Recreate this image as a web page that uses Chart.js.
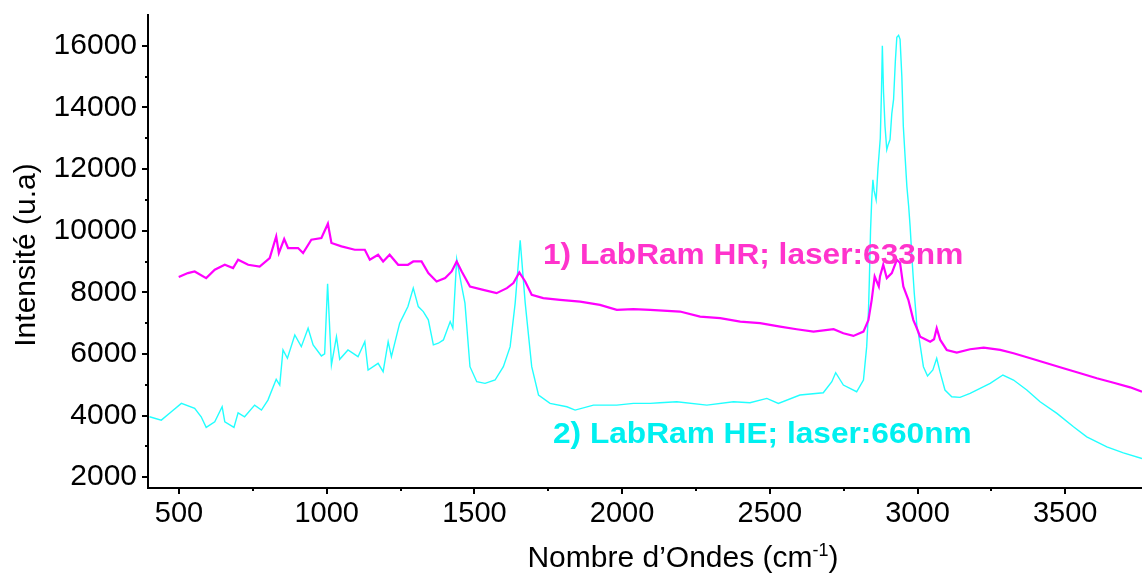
<!DOCTYPE html>
<html>
<head>
<meta charset="utf-8">
<script src="https://cdn.jsdelivr.net/npm/chart.js@4.4.0/dist/chart.umd.min.js"></script>
<style>
  html, body { margin: 0; padding: 0; background: #fff; }
  #wrap { width: 1142px; height: 574px; }
</style>
</head>
<body>
<div id="wrap"><canvas id="ramanChart" width="1142" height="574"></canvas></div>
<script>
// spectre 1 : LabRam HR, laser 633nm (nombre d'ondes / intensité)
const hrWave = [499, 530, 553, 592, 621, 655, 683, 700, 734, 773, 807, 829, 838, 856, 869, 903, 920, 948, 982, 1004,
  1016, 1050, 1095, 1129, 1146, 1174, 1191, 1213, 1242, 1275, 1293, 1321, 1344, 1372, 1401, 1423, 1440, 1457, 1485, 1530,
  1575, 1610, 1632, 1652, 1672, 1694, 1733, 1790, 1858, 1925, 1982, 2038, 2095, 2196, 2264, 2332, 2400, 2467, 2535, 2591,
  2648, 2716, 2749, 2783, 2817, 2834, 2845, 2855, 2869, 2873, 2884, 2896, 2913, 2930, 2941, 2952, 2969, 2986, 2995, 3009,
  3043, 3056, 3065, 3077, 3099, 3133, 3178, 3224, 3280, 3325, 3382, 3438, 3494, 3551, 3607, 3664, 3720, 3760];
const hrInt = [8494, 8624, 8677, 8462, 8732, 8894, 8787, 9057, 8894, 8839, 9112, 9815, 9275, 9730, 9437, 9437, 9275, 9708, 9762, 10227,
  9600, 9490, 9382, 9382, 9057, 9220, 9002, 9220, 8894, 8894, 9002, 9002, 8624, 8352, 8462, 8677, 9002, 8677, 8189, 8081,
  7974, 8136, 8299, 8644, 8352, 7919, 7811, 7756, 7701, 7593, 7431, 7453, 7431, 7376, 7213, 7160, 7050, 6998, 6888, 6803,
  6725, 6803, 6673, 6585, 6725, 7106, 7756, 8514, 8189, 8514, 8894, 8462, 8624, 9057, 8949, 8189, 7756, 7100, 6900, 6562,
  6400, 6478, 6836, 6455, 6130, 6043, 6153, 6205, 6130, 6022, 5860, 5697, 5535, 5372, 5210, 5067, 4917, 4774];

// spectre 2 : LabRam HE, laser 660nm
const heWave = [400, 440, 474, 508, 553, 575, 592, 621, 646, 655, 686, 700, 722, 756, 779, 801, 829, 841, 852, 867,
  892, 914, 937, 954, 982, 993, 1003, 1016, 1033, 1044, 1072, 1106, 1129, 1140, 1174, 1191, 1208, 1219, 1247, 1275,
  1293, 1310, 1327, 1344, 1361, 1378, 1395, 1418, 1427, 1440, 1457, 1468, 1485, 1508, 1536, 1570, 1598, 1621, 1638, 1655,
  1672, 1694, 1717, 1756, 1813, 1841, 1903, 1982, 2038, 2095, 2128, 2185, 2287, 2377, 2433, 2490, 2529, 2602, 2681, 2710,
  2723, 2749, 2794, 2817, 2828, 2834, 2837, 2841, 2845, 2849, 2853, 2860, 2866, 2874, 2878, 2881, 2885, 2890, 2896, 2901,
  2907, 2913, 2919, 2925, 2930, 2936, 2941, 2947, 2952, 2958, 2964, 2970, 2975, 2982, 2989, 2994, 2998, 3003, 3020, 3034,
  3052, 3065, 3076, 3093, 3116, 3144, 3178, 3212, 3246, 3289, 3325, 3370, 3415, 3472, 3528, 3573, 3641, 3697, 3760];
const heInt = [3961, 3853, 4123, 4396, 4234, 3961, 3616, 3798, 4286, 3798, 3616, 4091, 3961, 4341, 4179, 4504, 5177, 4992, 6130, 5860,
  6618, 6237, 6836, 6293, 5935, 6000, 8276, 5642, 6562, 5827, 6130, 5912, 6400, 5480, 5697, 5425, 6400, 5912, 7000, 7538,
  8136, 7538, 7375, 7106, 6293, 6348, 6455, 7050, 6836, 9080, 8190, 7648, 5587, 5099, 5047, 5155, 5587, 6237, 7648, 9685,
  7648, 5587, 4667, 4396, 4286, 4179, 4341, 4341, 4396, 4396, 4416, 4449, 4341, 4449, 4416, 4558, 4396, 4667, 4742, 5099,
  5392, 4992, 4774, 5155, 6237, 7400, 8400, 10000, 11000, 11650, 11300, 11000, 12000, 13000, 14500, 16000, 14500, 13390, 12630, 12800,
  12960, 13800, 14260, 15500, 16280, 16340, 16210, 15000, 13390, 12400, 11440, 10800, 10140, 9000, 7980, 7400, 6890, 6670, 5587, 5285,
  5480, 5860, 5425, 4829, 4612, 4590, 4722, 4884, 5047, 5317, 5155, 4829, 4449, 4071, 3636, 3311, 2985, 2790, 2608];

const xTicks = [500, 1000, 1500, 2000, 2500, 3000, 3500];
const xMinorTicks = [750, 1250, 1750, 2250, 2750, 3250];
const yTicks = [2000, 4000, 6000, 8000, 10000, 12000, 14000, 16000];
const yMinorTicks = [3000, 5000, 7000, 9000, 11000, 13000, 15000];

const seriesNames = ['1) LabRam HR; laser:633nm', '2) LabRam HE; laser:660nm'];
const nameAnchorX = [1732, 1766];
const nameAnchorY = [9190, 3370];

const FONT = '"Liberation Sans", Arial, sans-serif';
const lineColors = ['#ff00ff', '#22ffff'];
const textColors = ['#ff33cc', '#00f0f0'];

const toPoints = (xs, ys) => xs.map((x, i) => ({ x: x, y: ys[i] }));

// graduations secondaires, noms des spectres et titres des axes
const decorPlugin = {
    id: 'decor',
    afterDraw(chart) {
        const ctx = chart.ctx;
        const xs = chart.scales.x;
        const ys = chart.scales.y;
        const area = chart.chartArea;
        ctx.save();

        ctx.strokeStyle = '#000';
        ctx.lineWidth = 2;
        ctx.beginPath();
        xMinorTicks.forEach(v => {
            const p = Math.round(xs.getPixelForValue(v));
            ctx.moveTo(p, area.bottom);
            ctx.lineTo(p, area.bottom + 3);
        });
        yMinorTicks.forEach(v => {
            const p = Math.round(ys.getPixelForValue(v));
            ctx.moveTo(area.left, p);
            ctx.lineTo(area.left - 3, p);
        });
        ctx.stroke();

        // noms des spectres (police un peu élargie comme sur la figure)
        ctx.font = 'bold 30px ' + FONT;
        ctx.textAlign = 'left';
        ctx.textBaseline = 'middle';
        seriesNames.forEach((name, i) => {
            ctx.save();
            ctx.fillStyle = textColors[i];
            ctx.translate(xs.getPixelForValue(nameAnchorX[i]), ys.getPixelForValue(nameAnchorY[i]));
            ctx.scale(1.055, 1);
            ctx.fillText(name, 0, 0);
            ctx.restore();
        });

        // titre de l'axe x avec exposant
        ctx.fillStyle = '#000';
        ctx.textBaseline = 'alphabetic';
        const mainFont = '30px ' + FONT;
        const supFont = '18px ' + FONT;
        const part1 = 'Nombre d\u2019Ondes (cm';
        const sup = '-1';
        const part2 = ')';
        ctx.font = mainFont;
        const w1 = ctx.measureText(part1).width;
        const w3 = ctx.measureText(part2).width;
        ctx.font = supFont;
        const w2 = ctx.measureText(sup).width;
        const x0 = 683 - (w1 + w2 + w3) / 2;
        const base = 567;
        ctx.font = mainFont;
        ctx.fillText(part1, x0, base);
        ctx.font = supFont;
        ctx.fillText(sup, x0 + w1, base - 11);
        ctx.font = mainFont;
        ctx.fillText(part2, x0 + w1 + w2, base);

        // titre de l'axe y
        ctx.translate(35, 255);
        ctx.rotate(-Math.PI / 2);
        ctx.textAlign = 'center';
        ctx.fillText('Intensit\u00e9 (u.a)', 0, 0);

        ctx.restore();
    }
};

const renderChart = () => {
    const ctx = document.getElementById('ramanChart').getContext('2d');
    // eslint-disable-next-line no-undef
    new Chart(ctx, {
        type: 'scatter',
        data: {
            datasets: [{
                label: seriesNames[0],
                data: toPoints(hrWave, hrInt),
                showLine: true,
                borderColor: lineColors[0],
                borderWidth: 2.2,
                pointRadius: 0,
                tension: 0
            }, {
                label: seriesNames[1],
                data: toPoints(heWave, heInt),
                showLine: true,
                borderColor: lineColors[1],
                borderWidth: 1.4,
                pointRadius: 0,
                tension: 0
            }]
        },
        options: {
            responsive: false,
            animation: false,
            devicePixelRatio: 1,
            layout: { padding: { top: 15, right: 0, bottom: 0, left: 0 } },
            plugins: {
                legend: { display: false },
                tooltip: { enabled: false }
            },
            scales: {
                x: {
                    type: 'linear',
                    min: 395,
                    max: 3760,
                    border: { display: true, color: '#000', width: 2 },
                    grid: { drawOnChartArea: false, color: '#000', lineWidth: 2, tickLength: 6 },
                    ticks: {
                        color: '#000',
                        font: { family: FONT, size: 29 },
                        padding: 3,
                        maxRotation: 0,
                        autoSkip: false,
                        callback: v => String(v)
                    },
                    afterBuildTicks: s => { s.ticks = xTicks.map(v => ({ value: v })); },
                    afterFit: s => {
                        s.height = 86;
                        s.paddingLeft = 0;
                        s.paddingRight = 0;
                    }
                },
                y: {
                    type: 'linear',
                    min: 1650,
                    max: 17000,
                    border: { display: true, color: '#000', width: 2 },
                    grid: { drawOnChartArea: false, color: '#000', lineWidth: 2, tickLength: 6 },
                    ticks: {
                        color: '#000',
                        font: { family: FONT, size: 30 },
                        padding: 5,
                        autoSkip: false,
                        callback: v => String(v)
                    },
                    afterBuildTicks: s => { s.ticks = yTicks.map(v => ({ value: v })); },
                    afterFit: s => {
                        s.width = 148;
                        s.paddingTop = 0;
                        s.paddingBottom = 0;
                    }
                }
            }
        },
        plugins: [decorPlugin]
    });
};

window.onload = renderChart;
</script>
</body>
</html>
